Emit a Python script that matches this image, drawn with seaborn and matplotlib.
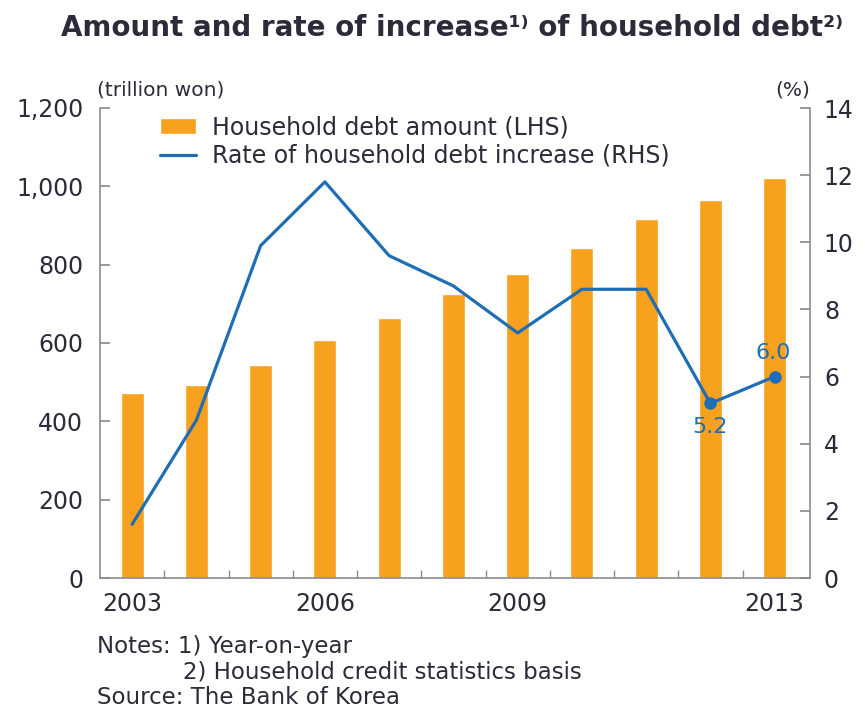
import numpy as np
import pandas as pd
import matplotlib
matplotlib.use("Agg")
import matplotlib.pyplot as plt
import seaborn as sns
from matplotlib.ticker import FuncFormatter

# dados
anos = [2003, 2004, 2005, 2006, 2007, 2008, 2009, 2010, 2011, 2012, 2013]
divida = [472, 494, 543, 607, 665, 724, 776, 843, 916, 964, 1021]
taxa = [1.6, 4.7, 9.9, 11.8, 9.6, 8.7, 7.3, 8.6, 8.6, 5.2, 6.0]
anos_rotulo = ["2003", "2006", "2009", "2013"]

laranja = "#F7A11E"
azul = "#1F6DB5"
texto = "#2B2B3A"
cinza = "#8C8C8C"

sns.set_theme(style="white")
plt.rcParams["font.family"] = ["DejaVu Sans"]

df = pd.DataFrame({"ano": [str(a) for a in anos], "divida": divida, "taxa": taxa})
pos = np.arange(len(anos))

fig = plt.figure(figsize=(8.65, 7.09), dpi=100)
ax = fig.add_axes([100 / 865, 1 - 578 / 709, 710 / 865, 470 / 709])

# barras: montante da dívida (eixo esquerdo)
sns.barplot(data=df, x="ano", y="divida", color=laranja, width=0.36,
            saturation=1, ax=ax, label="Household debt amount (LHS)")
ax.set_xlim(-0.5, len(anos) - 0.45)
ax.set_ylim(0, 1200)
ax.set_yticks(range(0, 1201, 200))
ax.yaxis.set_major_formatter(FuncFormatter(lambda v, p: f"{int(v):,}"))
ax.set_xlabel("")
ax.set_ylabel("")

ticks_x = [anos.index(int(a)) for a in anos_rotulo]
ax.set_xticks(ticks_x)
ax.set_xticklabels(anos_rotulo)
ax.set_xticks(pos[:-1] + 0.5, minor=True)

# linha: taxa de aumento (eixo direito)
ax2 = ax.twinx()
sns.lineplot(x=pos, y=df["taxa"], color=azul, linewidth=2.3, ax=ax2,
             label="Rate of household debt increase (RHS)", legend=False)
ax2.plot(pos[-2:], df["taxa"].values[-2:], "o", color=azul, markersize=8)
ax2.set_ylim(0, 14)
ax2.set_yticks(range(0, 15, 2))
ax2.set_ylabel("")
ax2.annotate(f"{taxa[-1]:.1f}", (pos[-1], taxa[-1]), xytext=(-1, 10),
             textcoords="offset points", ha="center", va="bottom",
             color=azul, fontsize=16)
ax2.annotate(f"{taxa[-2]:.1f}", (pos[-2], taxa[-2]), xytext=(0, -10),
             textcoords="offset points", ha="center", va="top",
             color=azul, fontsize=16)

for a in (ax, ax2):
    for s in a.spines.values():
        s.set_color(cinza)
        s.set_linewidth(1.2)
    a.spines["top"].set_visible(False)
ax.spines["right"].set_visible(False)
ax2.spines["left"].set_visible(False)
ax2.spines["bottom"].set_visible(False)

ax.tick_params(axis="y", direction="in", length=7, color=cinza, labelsize=17,
               labelcolor=texto, pad=12, left=True)
ax.tick_params(axis="x", which="major", length=0, labelsize=17, labelcolor=texto, pad=10)
ax.tick_params(axis="x", which="minor", direction="in", length=6, color=cinza, bottom=True)
ax2.tick_params(axis="y", direction="in", length=7, color=cinza, labelsize=17,
                labelcolor=texto, pad=10, right=True)

h1, l1 = ax.get_legend_handles_labels()
h2, l2 = ax2.get_legend_handles_labels()
leg = ax.legend(h1 + h2, l1 + l2, loc="upper left", bbox_to_anchor=(0.055, 1.03),
                frameon=False, fontsize=17, handlelength=1.5, handleheight=0.7,
                labelspacing=0.2, handletextpad=0.7, labelcolor=texto)

fig.text(452 / 865, 1 - 28 / 709, "Amount and rate of increase¹⁾ of household debt²⁾",
         ha="center", va="center", fontsize=20, fontweight="bold", color=texto)
fig.text(97 / 865, 1 - 90 / 709, "(trillion won)", ha="left", va="center",
         fontsize=14.5, color=texto)
fig.text(810 / 865, 1 - 90 / 709, "(%)", ha="right", va="center",
         fontsize=14.5, color=texto)
fig.text(97 / 865, 1 - 646 / 709, "Notes: 1) Year-on-year", ha="left", va="center",
         fontsize=16.5, color=texto)
fig.text(183 / 865, 1 - 672 / 709, "2) Household credit statistics basis", ha="left",
         va="center", fontsize=16.5, color=texto)
fig.text(97 / 865, 1 - 698 / 709, "Source: The Bank of Korea", ha="left", va="center",
         fontsize=16.5, color=texto)

fig.savefig("out.png", dpi=100)
